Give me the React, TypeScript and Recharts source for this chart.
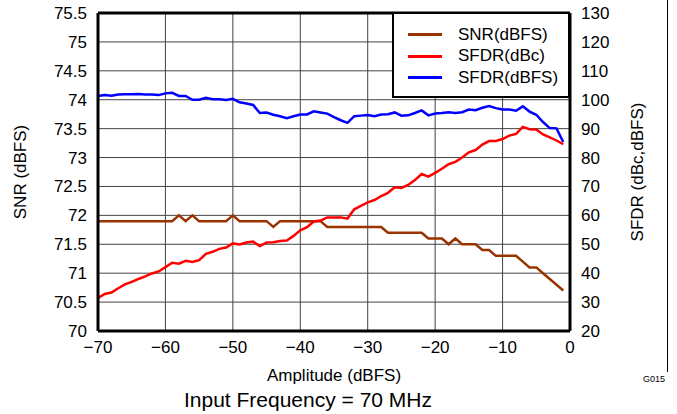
import {
  CartesianGrid,
  ComposedChart,
  Line,
  ReferenceLine,
  XAxis,
  YAxis
} from "recharts";

const amplitude = [
  -70, -69, -68, -67, -66, -65, -64, -63, -62, -61,
  -60, -59, -58, -57, -56, -55, -54, -53, -52, -51,
  -50, -49, -48, -47, -46, -45, -44, -43, -42, -41,
  -40, -39, -38, -37, -36, -35, -34, -33, -32, -31,
  -30, -29, -28, -27, -26, -25, -24, -23, -22, -21,
  -20, -19, -18, -17, -16, -15, -14, -13, -12, -11,
  -10, -9, -8, -7, -6, -5, -4, -3, -2, -1
];

const snrDbfs = [
  71.9, 71.9, 71.9, 71.9, 71.9, 71.9, 71.9, 71.9, 71.9, 71.9,
  71.9, 71.9, 72.0, 71.9, 72.0, 71.9, 71.9, 71.9, 71.9, 71.9,
  72.0, 71.9, 71.9, 71.9, 71.9, 71.9, 71.8, 71.9, 71.9, 71.9,
  71.9, 71.9, 71.9, 71.9, 71.8, 71.8, 71.8, 71.8, 71.8, 71.8,
  71.8, 71.8, 71.8, 71.7, 71.7, 71.7, 71.7, 71.7, 71.7, 71.6,
  71.6, 71.6, 71.5, 71.6, 71.5, 71.5, 71.5, 71.4, 71.4, 71.3,
  71.3, 71.3, 71.3, 71.2, 71.1, 71.1, 71.0, 70.9, 70.8, 70.7
];

const sfdrDbc = [
  31.4, 32.8, 33.3, 34.8, 36.1, 37.0, 38.0, 38.9, 39.9, 40.6,
  42.1, 43.6, 43.3, 44.3, 43.9, 44.5, 46.7, 47.4, 48.4, 48.9,
  50.3, 49.9, 50.6, 50.9, 49.4, 50.6, 50.7, 51.1, 51.3, 52.9,
  54.8, 55.9, 57.9, 58.2, 59.3, 59.3, 59.3, 58.9, 62.1, 63.3,
  64.5, 65.3, 66.7, 67.8, 69.7, 69.5, 70.5, 72.2, 74.3, 73.4,
  74.7, 76.1, 77.7, 78.5, 80.0, 81.8, 82.6, 84.5, 85.7, 85.7,
  86.4, 87.6, 88.2, 90.6, 89.8, 89.7, 88.0, 87.0, 85.9, 84.6
];

const sfdrDbfs = [
  101.3, 101.6, 101.4, 101.8, 101.9, 101.9, 102.0, 101.8, 101.8, 101.6,
  102.2, 102.4, 101.3, 101.3, 100.0, 100.0, 100.7, 100.2, 100.2, 99.9,
  100.3, 99.1, 98.7, 98.2, 95.4, 95.6, 94.8, 94.3, 93.6, 94.3,
  94.9, 94.9, 96.0, 95.6, 95.2, 94.0, 92.9, 92.0, 94.3, 94.5,
  94.7, 94.3, 94.9, 95.0, 95.6, 94.5, 94.6, 95.4, 96.3, 94.6,
  95.2, 95.4, 95.7, 95.4, 95.7, 96.6, 96.4, 97.2, 97.8, 97.1,
  96.6, 96.6, 96.2, 97.7, 95.9, 94.8, 92.3, 90.2, 90.1, 85.4
];

const xTicks = [-70, -60, -50, -40, -30, -20, -10, 0];
const snrTicks = [70, 70.5, 71, 71.5, 72, 72.5, 73, 73.5, 74, 74.5, 75, 75.5];
const sfdrTicks = [20, 30, 40, 50, 60, 70, 80, 90, 100, 110, 120, 130];

const series = [
  { key: "snr", label: "SNR(dBFS)", color: "#993300" },
  { key: "sfdrDbc", label: "SFDR(dBc)", color: "#ff0000" },
  { key: "sfdrDbfs", label: "SFDR(dBFS)", color: "#0000ff" }
];

const FONT = "'Liberation Sans', Arial, sans-serif";

function LegendBox() {
  return (
    <div
      style={{
        position: "absolute",
        left: 392,
        top: 12,
        width: 178,
        height: 86,
        border: "2px solid #000",
        background: "#fff",
        fontFamily: FONT,
        fontSize: 17,
        paddingTop: 10,
        boxSizing: "border-box"
      }}
    >
      {series.map((s) => (
        <div key={s.key} style={{ display: "flex", alignItems: "center", height: 21.5 }}>
          <div style={{ marginLeft: 14, width: 34, height: 3, background: s.color }} />
          <span style={{ marginLeft: 16, color: "#000" }}>{s.label}</span>
        </div>
      ))}
    </div>
  );
}

export default function App() {
  const data = amplitude.map((a, i) => ({
    amp: a,
    snr: snrDbfs[i],
    sfdrDbc: sfdrDbc[i],
    sfdrDbfs: sfdrDbfs[i]
  }));

  const tickStyle = { fill: "#000", fontSize: 17, fontFamily: FONT };

  return (
    <div style={{ position: "absolute", left: 0, top: 0, width: 677, height: 414, background: "#fff" }}>
      <ComposedChart
        width={677}
        height={414}
        data={data}
        margin={{ top: 13, right: 0, bottom: 53, left: 0 }}
      >
        <CartesianGrid stroke="#444" strokeWidth={1} yAxisId="left" horizontalValues={snrTicks} verticalValues={xTicks} />
        <XAxis
          dataKey="amp"
          type="number"
          domain={[-70, 0]}
          ticks={xTicks}
          interval={0}
          height={30}
          tickLine={false}
          tickMargin={4}
          axisLine={{ stroke: "#000", strokeWidth: 3 }}
          tick={tickStyle}
          tickFormatter={(v) => String(v).replace("-", "\u2212")}
          label={{ value: "Amplitude (dBFS)", position: "insideBottom", offset: -20, style: { ...tickStyle, textAnchor: "middle" } }}
        />
        <YAxis
          yAxisId="left"
          domain={[70, 75.5]}
          ticks={snrTicks}
          interval={0}
          width={98}
          tickLine={false}
          tickMargin={5}
          axisLine={{ stroke: "#000", strokeWidth: 3 }}
          tick={tickStyle}
          label={{ value: "SNR (dBFS)", angle: -90, position: "insideLeft", offset: 20, style: { ...tickStyle, textAnchor: "middle" } }}
        />
        <YAxis
          yAxisId="right"
          orientation="right"
          domain={[20, 130]}
          ticks={sfdrTicks}
          interval={0}
          width={107}
          tickLine={false}
          tickMargin={5}
          axisLine={{ stroke: "#000", strokeWidth: 3 }}
          tick={{ ...tickStyle, textAnchor: "start" }}
          label={{ value: "SFDR (dBc,dBFS)", angle: -90, position: "insideRight", offset: 40, style: { ...tickStyle, textAnchor: "middle" } }}
        />
        <ReferenceLine yAxisId="left" y={75.5} stroke="#000" strokeWidth={3} />
        <Line
          yAxisId="left"
          type="linear"
          dataKey="snr"
          stroke="#993300"
          strokeWidth={2.5}
          dot={false}
          isAnimationActive={false}
        />
        <Line
          yAxisId="right"
          type="linear"
          dataKey="sfdrDbc"
          stroke="#ff0000"
          strokeWidth={2.5}
          dot={false}
          isAnimationActive={false}
        />
        <Line
          yAxisId="right"
          type="linear"
          dataKey="sfdrDbfs"
          stroke="#0000ff"
          strokeWidth={2.5}
          dot={false}
          isAnimationActive={false}
        />
      </ComposedChart>
      <LegendBox />
      <div
        style={{
          position: "absolute",
          left: 0,
          width: 616,
          top: 388,
          textAlign: "center",
          fontFamily: FONT,
          fontSize: 21,
          color: "#000"
        }}
      >
        Input Frequency = 70 MHz
      </div>
      <div style={{ position: "absolute", left: 643, top: 374, fontFamily: FONT, fontSize: 9, color: "#000" }}>
        G015
      </div>
      <div style={{ position: "absolute", left: 667, top: 0, width: 1, height: 372, background: "#000" }} />
    </div>
  );
}
